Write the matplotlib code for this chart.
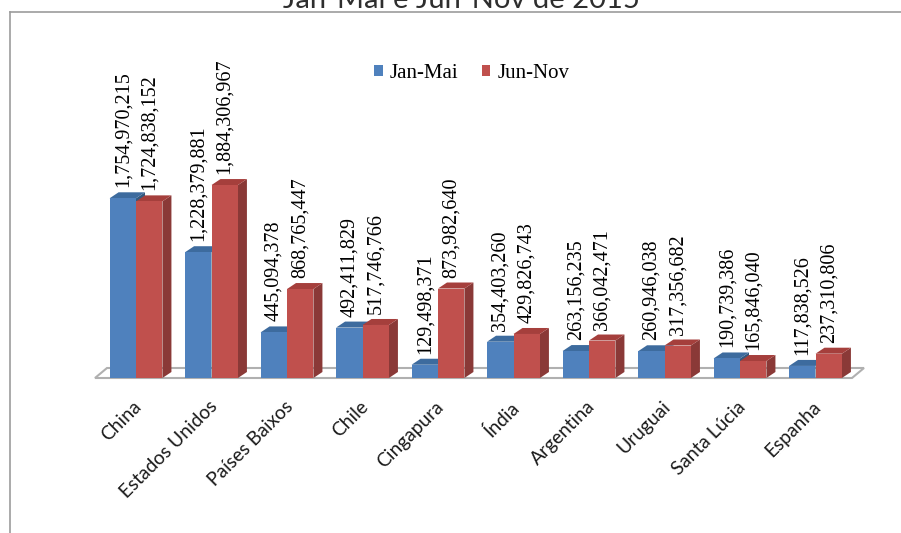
import matplotlib
matplotlib.use("Agg")
import matplotlib.pyplot as plt
from matplotlib.patches import Polygon, Patch
from matplotlib.lines import Line2D

# ---- data ----
countries = ["China", "Estados Unidos", "Países Baixos", "Chile", "Cingapura",
             "Índia", "Argentina", "Uruguai", "Santa Lúcia", "Espanha"]
jan_mai = [1754970215, 1228379881, 445094378, 492411829, 129498371,
           354403260, 263156235, 260946038, 190739386, 117838526]
jun_nov = [1724838152, 1884306967, 868765447, 517746766, 873982640,
           429826743, 366042471, 317356682, 165846040, 237310806]
series_names = ["Jan-Mai", "Jun-Nov"]
title = "Jan-Mai e Jun-Nov de 2015"

# ---- layout ----
W, H, DPI = 901, 533, 100
X0_PX, STEP_PX = 136.0, 75.5          # first category centre, category spacing
BASE_PX, PX_PER_UNIT = 378.0, 1.024e-7  # baseline row, pixels per value unit
UNITS_PER_PX = 1.0 / PX_PER_UNIT
CAT_PER_PX = 1.0 / STEP_PX
BAR_W = 0.35

# face colours: front, top, side
BLUE = ("#4F81BD", "#3D6B9E", "#33597F")
RED = ("#C0504D", "#A53F3C", "#8A3937")

fig = plt.figure(figsize=(W / DPI, H / DPI), dpi=DPI)
ax = fig.add_axes([0, 0, 1, 1])
ax.set_xlim(-X0_PX * CAT_PER_PX, (W - X0_PX) * CAT_PER_PX)
ax.set_ylim(-(H - BASE_PX) * UNITS_PER_PX, BASE_PX * UNITS_PER_PX)
ax.axis("off")

# bar depth (receding to upper right)
ddx, ddy = 9 * CAT_PER_PX, 6 * UNITS_PER_PX

# floor
fdx, fdy = 12 * CAT_PER_PX, 10 * UNITS_PER_PX
fx0, fx1 = (95 - X0_PX) * CAT_PER_PX, (852 - X0_PX) * CAT_PER_PX
ax.add_patch(Polygon([(fx0, 0), (fx1, 0), (fx1 + fdx, fdy), (fx0 + fdx, fdy)],
                     closed=True, facecolor="white", edgecolor="#B0B0B0",
                     linewidth=1.5, zorder=1))


def bar3d(xc, v, cols, z):
    x0, x1 = xc - BAR_W / 2, xc + BAR_W / 2
    front, top, side = cols
    ax.add_patch(Polygon([(x1, 0), (x1 + ddx, ddy), (x1 + ddx, v + ddy), (x1, v)],
                         closed=True, facecolor=side, edgecolor="none", zorder=z))
    ax.add_patch(Polygon([(x0, v), (x1, v), (x1 + ddx, v + ddy), (x0 + ddx, v + ddy)],
                         closed=True, facecolor=top, edgecolor="none", zorder=z))
    ax.bar(xc, v, width=BAR_W, color=front, edgecolor="none", zorder=z)


label_off = 11 * UNITS_PER_PX
for i in range(len(countries)):
    for k, (vals, cols) in enumerate(((jan_mai, BLUE), (jun_nov, RED))):
        xc = i + (k - 0.5) * BAR_W
        v = vals[i]
        bar3d(xc, v, cols, 2 + 2 * i + k)
        ax.text(xc, v + label_off, f"{v:,}", rotation=90, ha="center", va="bottom",
                family="Liberation Serif", fontsize=14.5, color="black", zorder=30)

# category labels
for i, name in enumerate(countries):
    ax.text(i - 0.04, -(398 - BASE_PX) * UNITS_PER_PX, name, rotation=45,
            rotation_mode="anchor", ha="right", va="top",
            family="Lato", fontsize=13.8, color="#1A1A1A")

# legend
handles = [Patch(facecolor=BLUE[0]), Patch(facecolor=RED[0])]
fig.legend(handles, series_names, loc="upper left",
           bbox_to_anchor=(374 / W, 1 - 64 / H), ncol=2, frameon=False,
           prop={"family": "Liberation Serif", "size": 15},
           handlelength=0.42, handleheight=0.42, handletextpad=0.35,
           columnspacing=1.1, borderpad=0, borderaxespad=0)

# chart frame (top and left edges)
fc = "#9C9C9C"
fig.add_artist(Line2D([10 / W, 1], [1 - 12 / H, 1 - 12 / H], color=fc, lw=1.2,
                      transform=fig.transFigure))
fig.add_artist(Line2D([10 / W, 10 / W], [0, 1 - 12 / H], color=fc, lw=1.2,
                      transform=fig.transFigure))

# title, sitting above the frame
fig.text(461 / W, 1 - 7.5 / H, title, ha="center", va="baseline",
         family="Lato", fontsize=21, color="#2E2E2E")

fig.savefig("out.png", dpi=DPI)
